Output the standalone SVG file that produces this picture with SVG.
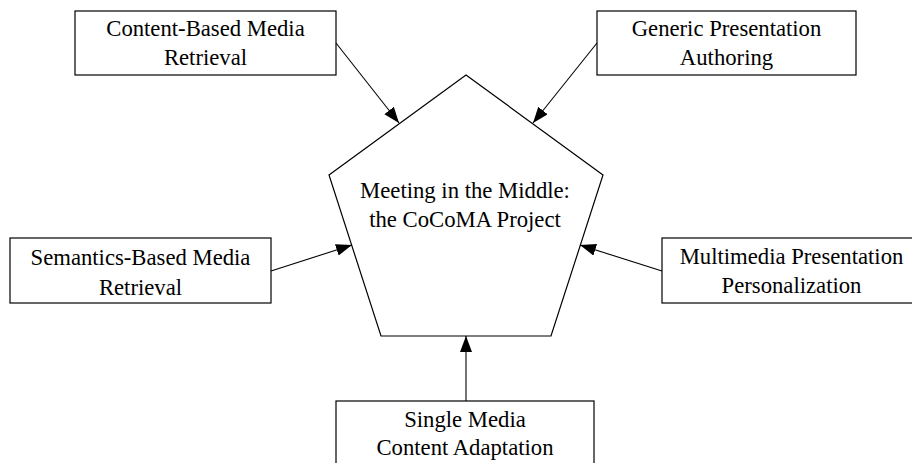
<svg xmlns="http://www.w3.org/2000/svg" width="912" height="463" viewBox="0 0 912 463">
  <style>
    .box { fill: #fff; stroke: #000; stroke-width: 1.2; }
    .pent { fill: #fff; stroke: #000; stroke-width: 1.2; }
    .lbl { font-family: "Liberation Serif", "Times New Roman", serif; font-size: 22.7px; fill: #000; text-anchor: middle; }
    .edge { stroke: #000; stroke-width: 1.1; fill: none; marker-end: url(#arrow); }
  </style>
  <defs>
    <marker id="arrow" markerUnits="userSpaceOnUse" markerWidth="17" markerHeight="13" refX="16" refY="6" orient="auto">
      <path d="M0,0 L16,6 L0,12 Z" fill="#000"/>
    </marker>
  </defs>
  <rect width="912" height="463" fill="#fff"/>

  <g id="n-center">
    <polygon class="pent" points="466,75 603,175 551,336 381,336 329,175"/>
    <text class="lbl" x="465" y="198">Meeting in the Middle:</text>
    <text class="lbl" x="465" y="227">the CoCoMA Project</text>
  </g>

  <g id="n-content">
    <rect class="box" x="75" y="11" width="261" height="64"/>
    <text class="lbl" x="205.5" y="36">Content-Based Media</text>
    <text class="lbl" x="205.5" y="65">Retrieval</text>
  </g>

  <g id="n-generic">
    <rect class="box" x="597" y="11" width="259" height="64"/>
    <text class="lbl" x="726.5" y="36">Generic Presentation</text>
    <text class="lbl" x="726.5" y="65">Authoring</text>
  </g>

  <g id="n-semantics">
    <rect class="box" x="10" y="238" width="261" height="65"/>
    <text class="lbl" x="140.5" y="265">Semantics-Based Media</text>
    <text class="lbl" x="140.5" y="295">Retrieval</text>
  </g>

  <g id="n-multimedia">
    <rect class="box" x="662" y="238" width="259" height="65"/>
    <text class="lbl" x="791.5" y="264">Multimedia Presentation</text>
    <text class="lbl" x="791.5" y="293">Personalization</text>
  </g>

  <g id="n-single">
    <rect class="box" x="336" y="401" width="258" height="70"/>
    <text class="lbl" x="465" y="427">Single Media</text>
    <text class="lbl" x="465" y="455">Content Adaptation</text>
  </g>

  <g id="connectors">
    <line class="edge" x1="336" y1="43" x2="399" y2="123"/>
    <line class="edge" x1="597" y1="43" x2="533" y2="123"/>
    <line class="edge" x1="271" y1="271" x2="352" y2="245"/>
    <line class="edge" x1="662" y1="271" x2="580" y2="245"/>
    <line class="edge" x1="466" y1="401" x2="466" y2="336"/>
  </g>
</svg>
